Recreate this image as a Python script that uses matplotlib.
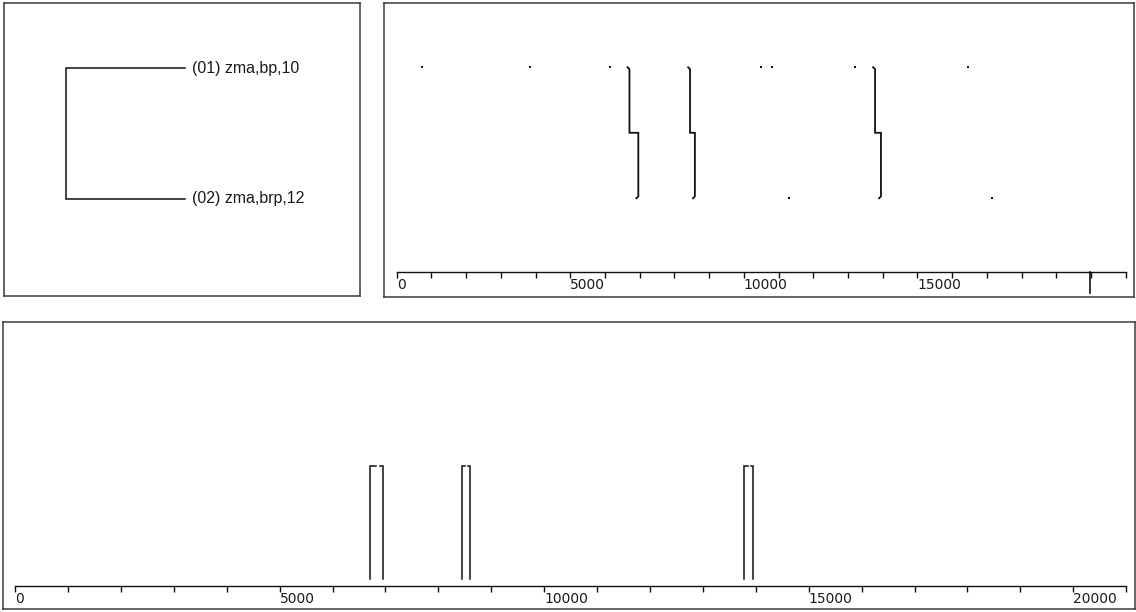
import matplotlib.pyplot as plt
from matplotlib.ticker import MultipleLocator

# Data
leaf_labels = ["(01) zma,bp,10", "(02) zma,brp,12"]
merge_height = 1.0

seq1_genes = [740, 3830, 6150, 10490, 10820, 13190, 16450]   # marks on row 1
seq2_genes = [11310, 17150]                                   # marks on row 2
link_start = [6705, 8450, 13780]   # position on seq 1
link_end = [6960, 8590, 13950]     # position on seq 2
seq_end = 19980
axis_max = 21000

W, H = 1136, 612
line_col = '#111111'
frame_col = '#3a3a3a'


def rect(x0, y0, x1, y1):
    # pixel box (from top-left) -> figure fraction
    return [x0 / W, 1 - y1 / H, (x1 - x0) / W, (y1 - y0) / H]


def frame(x0, y0, x1, y1):
    fa = fig.add_axes(rect(x0, y0, x1, y1))
    fa.set_xticks([])
    fa.set_yticks([])
    for s in fa.spines.values():
        s.set_color(frame_col)
        s.set_linewidth(1.1)
    return fa


def style_axis(ax, label_max):
    for side in ['top', 'left', 'right']:
        ax.spines[side].set_visible(False)
    ax.spines['bottom'].set_color(line_col)
    ax.spines['bottom'].set_linewidth(1.0)
    ax.patch.set_alpha(0)
    ax.set_yticks([])
    ax.set_xlim(0, axis_max)
    ax.xaxis.set_major_locator(MultipleLocator(5000))
    ax.xaxis.set_minor_locator(MultipleLocator(1000))
    ax.xaxis.set_major_formatter(lambda v, p: f"{v:.0f}" if v <= label_max else "")
    ax.tick_params(axis='x', which='both', direction='out', length=4, width=1.0,
                   color=line_col, pad=0.5, labelsize=10, labelcolor='#1a1a1a')
    for lab in ax.get_xticklabels():
        lab.set_horizontalalignment('left')


fig = plt.figure(figsize=(W / 100, H / 100), dpi=100)
plt.rcParams['font.family'] = ['DejaVu Sans']

# ---- left panel: dendrogram
frame(4, 3, 360, 296)
dax = fig.add_axes(rect(66, 68, 185, 199))
dax.set_xlim(merge_height, 0)
dax.set_ylim(1, 0)
dax.axis('off')
ymid = 0.5
gap = 0.006
for i, lab in enumerate(leaf_labels):
    yend = ymid - gap if i == 0 else ymid + gap
    dax.plot([0, merge_height, merge_height], [i, i, yend], color=line_col, lw=1.1,
             clip_on=False, solid_joinstyle='miter')
    dax.annotate(lab, xy=(0, i), xytext=(5, 0), textcoords='offset points',
                 ha='left', va='center', fontsize=11.5, color='#1a1a1a',
                 family=['Liberation Sans', 'DejaVu Sans'])

# ---- top right panel: gene positions on two sequences and links
frame(384, 3, 1134, 297)
tax = fig.add_axes(rect(396.7, 40, 1125.7, 271.7))
style_axis(tax, 15000)
tax.set_ylim(-0.560, 1.208)
tax.plot(seq1_genes, [1] * len(seq1_genes), 's', ms=1.8, color=line_col, mew=0)
tax.plot(seq2_genes, [0] * len(seq2_genes), 's', ms=1.8, color=line_col, mew=0)
hook = 55
for s, e in zip(link_start, link_end):
    tax.plot([s - hook, s, s, e, e, e - hook], [1, 0.985, 0.5, 0.5, 0.015, 0],
             color=line_col, lw=1.3, solid_joinstyle='miter')
tax.axvline(seq_end, ymin=-0.09, ymax=0, color=line_col, lw=1.2, clip_on=False)

# ---- bottom panel: linked regions
frame(3.5, 322, 1135, 609)
bax = fig.add_axes(rect(15.2, 330, 1126.1, 585.5))
style_axis(bax, axis_max)
bax.set_ylim(-0.0575, 2.2035)
for s, e in zip(link_start, link_end):
    g = s + 0.6 * (e - s)
    bax.plot([s, s, g - 30], [0, 1, 1], color=line_col, lw=1.1, solid_joinstyle='miter')
    bax.plot([g + 30, e, e], [1, 1, 0], color=line_col, lw=1.1, solid_joinstyle='miter')

fig.savefig('out.png', dpi=100)
